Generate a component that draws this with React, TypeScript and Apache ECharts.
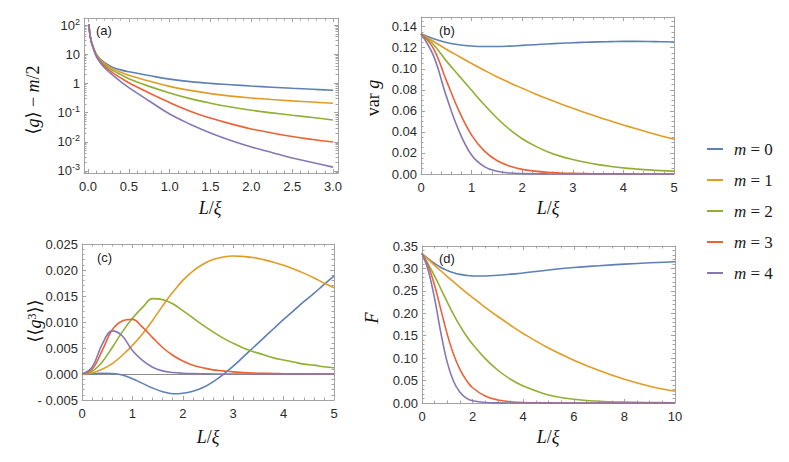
import React, { useEffect, useRef } from 'react';
import * as echarts from 'echarts';

// ---------- series meta ----------
const NAMES = ['m = 0', 'm = 1', 'm = 2', 'm = 3', 'm = 4'];
const COLORS = ['#5E81B5', '#E19C24', '#8FB032', '#EB6235', '#8778B3'];

// ---------- panel (a): <g> - m/2 (log scale) ----------
const A_L = [0.012, 0.015, 0.02, 0.03, 0.04, 0.05, 0.07, 0.1, 0.13, 0.16, 0.2, 0.25, 0.3, 0.4, 0.5, 0.75, 1.0, 1.25, 1.5, 1.75, 2.0, 2.25, 2.5, 2.75, 3.0];
const A_M0 = [105, 80, 58, 38, 28, 22.5, 15.8, 10.3, 7.9, 6.4, 5.2, 4.25, 3.6, 2.9, 2.5, 1.85, 1.4, 1.15, 1.0, 0.9, 0.81, 0.74, 0.68, 0.63, 0.58];
const A_M1 = [105, 80, 58, 38, 28, 22.2, 15.5, 9.9, 7.5, 6.0, 4.8, 3.85, 3.2, 2.4, 1.9, 1.2, 0.79, 0.575, 0.447, 0.367, 0.316, 0.279, 0.251, 0.229, 0.209];
const A_M2 = [105, 80, 58, 37.5, 27.5, 21.8, 15.2, 9.5, 7.1, 5.6, 4.4, 3.4, 2.8, 2.0, 1.45, 0.79, 0.47, 0.3, 0.21, 0.155, 0.12, 0.098, 0.081, 0.068, 0.056];
const A_M3 = [105, 79, 57, 37, 27, 21.4, 14.8, 9.1, 6.7, 5.2, 3.95, 2.95, 2.35, 1.55, 1.05, 0.47, 0.22, 0.112, 0.065, 0.041, 0.0275, 0.02, 0.0151, 0.012, 0.0098];
const A_M4 = [105, 79, 57, 36.5, 26.5, 21, 14.4, 8.6, 6.2, 4.75, 3.5, 2.55, 1.95, 1.15, 0.72, 0.25, 0.089, 0.04, 0.02, 0.011, 0.0066, 0.0043, 0.0028, 0.00195, 0.00135];
const A_X_TICKS = [0, 0.5, 1, 1.5, 2, 2.5, 3];
const A_Y_DECADES = [-3, -2, -1, 0, 1, 2];

// ---------- panel (b): var g ----------
const B_L = [0, 0.25, 0.5, 0.75, 1, 1.25, 1.5, 1.75, 2, 2.25, 2.5, 2.75, 3, 3.25, 3.5, 3.75, 4, 4.25, 4.5, 4.75, 5];
const B_M0 = [0.1333, 0.1285, 0.125, 0.1228, 0.1216, 0.1211, 0.1211, 0.1215, 0.1222, 0.1229, 0.1236, 0.1242, 0.1248, 0.1252, 0.1256, 0.1258, 0.126, 0.126, 0.1259, 0.1257, 0.1255];
const B_M1 = [0.1333, 0.1259, 0.1186, 0.1117, 0.105, 0.0986, 0.0924, 0.0868, 0.0815, 0.0763, 0.0714, 0.0668, 0.0624, 0.0582, 0.0541, 0.0503, 0.0466, 0.043, 0.0395, 0.0362, 0.033];
const B_M2 = [0.1333, 0.1228, 0.1075, 0.0935, 0.0795, 0.0658, 0.0532, 0.0423, 0.0335, 0.0267, 0.0212, 0.017, 0.0138, 0.0111, 0.0089, 0.0072, 0.0058, 0.0048, 0.0039, 0.0032, 0.0027];
const B_M3 = [0.1333, 0.119, 0.089, 0.06, 0.037, 0.022, 0.0128, 0.0075, 0.0044, 0.0027, 0.0016, 0.001, 0.0006, 0.0004, 0.0002, 0.00015, 0.0001, 0.00005, 0.00003, 0.00001, 0];
const B_M4 = [0.1333, 0.112, 0.074, 0.041, 0.018, 0.007, 0.0026, 0.001, 0.0004, 0.0002, 0.0001, 0.00005, 0, 0, 0, 0, 0, 0, 0, 0, 0];
const B_X_TICKS = [0, 1, 2, 3, 4, 5];
const B_Y_TICKS = [0, 0.02, 0.04, 0.06, 0.08, 0.1, 0.12, 0.14];

// ---------- panel (c): <<g^3>> ----------
const C_L = [0, 0.2, 0.4, 0.6, 0.8, 1.0, 1.2, 1.4, 1.6, 1.8, 2.0, 2.2, 2.4, 2.6, 2.8, 3.0, 3.2, 3.4, 3.6, 3.8, 4.0, 4.2, 4.4, 4.6, 4.8, 5.0];
const C_M0 = [0, 0.00005, 0.00015, 0.0001, -0.0002, -0.0009, -0.0018, -0.0027, -0.0034, -0.0038, -0.0037, -0.0033, -0.0026, -0.0015, -0.0001, 0.0015, 0.0033, 0.0051, 0.0069, 0.0087, 0.0105, 0.0122, 0.0139, 0.0155, 0.0172, 0.0188];
const C_M1 = [0, 0.0002, 0.0009, 0.002, 0.0036, 0.0055, 0.0077, 0.0103, 0.0131, 0.0157, 0.018, 0.0198, 0.0211, 0.022, 0.0225, 0.0227, 0.0226, 0.0224, 0.022, 0.0215, 0.0209, 0.0202, 0.0194, 0.0185, 0.0175, 0.0166];
const C_M2 = [0, 0.0005, 0.0023, 0.0051, 0.0081, 0.0107, 0.0128, 0.0145, 0.0143, 0.0135, 0.0122, 0.0108, 0.0094, 0.0081, 0.0069, 0.0059, 0.005, 0.0043, 0.0037, 0.0031, 0.0027, 0.0023, 0.0019, 0.0017, 0.0014, 0.0012];
const C_M3 = [0, 0.0009, 0.0045, 0.0085, 0.0102, 0.0105, 0.009, 0.007, 0.0051, 0.0036, 0.0025, 0.0017, 0.0012, 0.0008, 0.0006, 0.0004, 0.0003, 0.0002, 0.00013, 0.0001, 0.00006, 0.00004, 0.00003, 0.00002, 0.00001, 0];
const C_M4 = [0, 0.0013, 0.0057, 0.0083, 0.0073, 0.0045, 0.0026, 0.0013, 0.0006, 0.0003, 0.00015, 0.00007, 0.00003, 0.00001, 0, 0, 0, 0, 0, 0, 0, 0, 0, 0, 0, 0];
const C_X_TICKS = [0, 1, 2, 3, 4, 5];
const C_Y_TICKS = [-0.005, 0, 0.005, 0.01, 0.015, 0.02, 0.025];

// ---------- panel (d): F ----------
const D_L = [0, 0.25, 0.5, 0.75, 1, 1.25, 1.5, 1.75, 2, 2.5, 3, 3.5, 4, 5, 6, 7, 8, 9, 10];
const D_M0 = [0.3333, 0.3215, 0.311, 0.302, 0.2955, 0.2905, 0.2868, 0.2845, 0.2833, 0.2832, 0.2848, 0.2872, 0.2898, 0.2965, 0.302, 0.306, 0.3095, 0.3125, 0.315];
const D_M1 = [0.3333, 0.32, 0.307, 0.2943, 0.2819, 0.2699, 0.258, 0.2463, 0.235, 0.2134, 0.1928, 0.1734, 0.155, 0.1225, 0.0955, 0.0725, 0.053, 0.0375, 0.026];
const D_M2 = [0.3333, 0.309, 0.283, 0.254, 0.225, 0.197, 0.172, 0.15, 0.131, 0.099, 0.073, 0.053, 0.038, 0.018, 0.0085, 0.004, 0.002, 0.001, 0.0005];
const D_M3 = [0.3333, 0.305, 0.262, 0.207, 0.153, 0.108, 0.075, 0.051, 0.034, 0.0155, 0.0068, 0.0029, 0.0012, 0.0002, 0, 0, 0, 0, 0];
const D_M4 = [0.3333, 0.295, 0.232, 0.155, 0.09, 0.048, 0.024, 0.011, 0.005, 0.001, 0.0002, 0, 0, 0, 0, 0, 0, 0, 0];
const D_X_TICKS = [0, 2, 4, 6, 8, 10];
const D_Y_TICKS = [0, 0.05, 0.1, 0.15, 0.2, 0.25, 0.3, 0.35];

// ---------- styling ----------
const FRAME = '#a3a3a3';
const LABEL = '#2b2b2b';
const SANS = '"Liberation Sans", Arial, Helvetica, sans-serif';
const SERIF = '"Liberation Serif", "DejaVu Serif", "Times New Roman", serif';

function steps(a: number, b: number, step: number): number[] {
  const out: number[] = [];
  const n = Math.round((b - a) / step);
  for (let i = 0; i <= n; i++) out.push(+(a + i * step).toFixed(6));
  return out;
}

function logMinor(): number[] {
  const out: number[] = [];
  for (let n = -4; n <= 2; n++) for (let k = 2; k <= 9; k++) out.push(Math.log10(k * Math.pow(10, n)));
  return out;
}

function frameAxes(dim: 'x' | 'y', grid: number, min: number, max: number, major: number[], minor: number[], fmt: (v: number) => string, rich?: any) {
  const mk = (position: string, ticks: number[], len: number, showLine: boolean, labels: boolean) => ({
    type: 'value',
    gridIndex: grid,
    position,
    min,
    max,
    offset: 0,
    silent: true,
    splitLine: { show: false },
    axisLine: { show: showLine, onZero: false, lineStyle: { color: FRAME, width: 1 } },
    axisTick: { show: true, inside: true, length: len, customValues: ticks, lineStyle: { color: FRAME, width: 1 } },
    axisLabel: labels
      ? {
          show: true,
          customValues: major,
          formatter: fmt,
          color: LABEL,
          fontFamily: SANS,
          fontSize: 13,
          lineHeight: 16,
          margin: dim === 'x' ? 5 : 4,
          rich,
        }
      : { show: false },
  });
  const [p0, p1] = dim === 'x' ? ['bottom', 'top'] : ['left', 'right'];
  return [
    mk(p0, major, 4, true, true),
    mk(p0, minor, 2.5, false, false),
    mk(p1, major, 4, true, false),
    mk(p1, minor, 2.5, false, false),
  ];
}

function seriesFor(grid: number, L: number[], sets: number[][], transform?: (v: number) => number) {
  return sets.map((vals, k) => ({
    type: 'line',
    name: NAMES[k],
    xAxisIndex: grid * 4,
    yAxisIndex: grid * 4,
    data: L.map((x, i) => [x, transform ? transform(vals[i]) : vals[i]]),
    symbol: 'none',
    showSymbol: false,
    smooth: 0.4,
    clip: false,
    color: COLORS[k],
    lineStyle: { width: 1.6, color: COLORS[k] },
    itemStyle: { color: COLORS[k] },
    z: 3 + k,
  }));
}

function buildOption() {
  const grids = [
    { left: 84, top: 18, width: 254, height: 155 },
    { left: 421, top: 17, width: 253, height: 157 },
    { left: 82, top: 244, width: 252, height: 156 },
    { left: 422, top: 246, width: 253, height: 157 },
  ];

  const supRich = {
    s: { fontSize: 9, fontFamily: SANS, color: LABEL, verticalAlign: 'top', lineHeight: 9 },
  };
  const logFmt = (v: number) => {
    const n = Math.round(v);
    if (n === 0) return '1';
    if (n === 1) return '10';
    return '10{s|' + n + '}';
  };
  const f1 = (v: number) => v.toFixed(1);
  const f0 = (v: number) => String(Math.round(v));
  const f2 = (v: number) => v.toFixed(2);
  const f3 = (v: number) => (v < 0 ? '- ' + Math.abs(v).toFixed(3) : v.toFixed(3));

  const xAxis = [
    ...frameAxes('x', 0, -0.049, 3.061, A_X_TICKS, steps(0, 3, 0.1), f1),
    ...frameAxes('x', 1, 0, 5, B_X_TICKS, steps(0, 5, 0.2), f0),
    ...frameAxes('x', 2, 0, 5, C_X_TICKS, steps(0, 5, 0.2), f0),
    ...frameAxes('x', 3, 0, 10, D_X_TICKS, steps(0, 10, 0.5), f0),
  ];
  const yAxis = [
    ...frameAxes('y', 0, -3.07, 2.24, A_Y_DECADES, logMinor().filter((v) => v > -3.07 && v < 2.24), logFmt, supRich),
    ...frameAxes('y', 1, 0, 0.1492, B_Y_TICKS, steps(0, 0.145, 0.005), f2),
    ...frameAxes('y', 2, -0.005, 0.025, C_Y_TICKS, steps(-0.005, 0.025, 0.001), f3),
    ...frameAxes('y', 3, 0, 0.35, D_Y_TICKS, steps(0, 0.35, 0.01), f2),
  ];

  const sA = seriesFor(0, A_L, [A_M0, A_M1, A_M2, A_M3, A_M4], (v) => Math.log10(v));
  const sB = seriesFor(1, B_L, [B_M0, B_M1, B_M2, B_M3, B_M4]);
  const sC = seriesFor(2, C_L, [C_M0, C_M1, C_M2, C_M3, C_M4]);
  const sD = seriesFor(3, D_L, [D_M0, D_M1, D_M2, D_M3, D_M4]);
  (sC[0] as any).markLine = {
    silent: true,
    symbol: ['none', 'none'],
    label: { show: false },
    lineStyle: { color: '#8c8c8c', width: 1, type: 'solid' },
    data: [{ yAxis: 0 }],
    z: 1,
  };

  const title = (x: number, y: number, text: string, rich: any, rotate = false) => ({
    type: 'text',
    x,
    y,
    rotation: rotate ? Math.PI / 2 : 0,
    silent: true,
    style: {
      text,
      rich,
      fontFamily: SERIF,
      fontSize: 18,
      fill: '#111',
      align: 'center',
      verticalAlign: 'middle',
    },
  });
  const tRich = {
    u: { fontFamily: SERIF, fontSize: 18, fill: '#111' },
    i: { fontFamily: SERIF, fontSize: 18, fontStyle: 'italic', fill: '#111' },
    s: { fontFamily: SERIF, fontSize: 12, fill: '#111', verticalAlign: 'top', lineHeight: 12 },
  };
  const panelLabel = (x: number, y: number, text: string) => ({
    type: 'text',
    x,
    y,
    silent: true,
    style: { text, fontFamily: SANS, fontSize: 13, fill: '#222', align: 'left', verticalAlign: 'middle' },
  });

  return {
    animation: false,
    backgroundColor: '#ffffff',
    grid: grids.map((g) => ({ ...g, containLabel: false })),
    xAxis,
    yAxis,
    legend: {
      orient: 'vertical',
      left: 707,
      top: 139,
      padding: 0,
      itemWidth: 16,
      itemHeight: 2,
      itemGap: 11,
      icon: 'rect',
      selectedMode: false,
      data: NAMES,
      formatter: (name: string) => '{i|m}{t|' + name.slice(1) + '}',
      textStyle: {
        color: '#1a1a1a',
        fontFamily: SERIF,
        fontSize: 17,
        lineHeight: 20,
        rich: {
          i: { fontFamily: SERIF, fontSize: 17, fontStyle: 'italic', color: '#1a1a1a', padding: [0, 0, 0, 6] },
          t: { fontFamily: SERIF, fontSize: 17, color: '#1a1a1a' },
        },
      },
    },
    graphic: {
      elements: [
        title(33, 100, '{u|⟨}{i|g}{u|⟩ − }{i|m}{u|/2}', tRich, true),
        title(373, 98, '{u|var }{i|g}', tRich, true),
        title(35, 321, '{u|⟨⟨}{i|g}{s|3}{u|⟩⟩}', tRich, true),
        title(372, 318, '{i|F}', tRich, true),
        title(210, 208, '{i|L}{u|/}{i|ξ}', tRich),
        title(548, 208, '{i|L}{u|/}{i|ξ}', tRich),
        title(208, 437, '{i|L}{u|/}{i|ξ}', tRich),
        title(548, 437, '{i|L}{u|/}{i|ξ}', tRich),
        panelLabel(96, 30, '(a)'),
        panelLabel(439, 30, '(b)'),
        panelLabel(97, 257, '(c)'),
        panelLabel(439, 258, '(d)'),
      ],
    },
    series: [...sA, ...sB, ...sC, ...sD],
  };
}

export default function App() {
  const ref = useRef<HTMLDivElement>(null);
  useEffect(() => {
    if (!ref.current) return;
    const chart = echarts.init(ref.current, null, { renderer: 'svg', width: 789, height: 462 });
    chart.setOption(buildOption() as any);
    return () => chart.dispose();
  }, []);
  return (
    <div
      ref={ref}
      style={{ position: 'fixed', left: 0, top: 0, width: 789, height: 462, background: '#ffffff' }}
    />
  );
}
